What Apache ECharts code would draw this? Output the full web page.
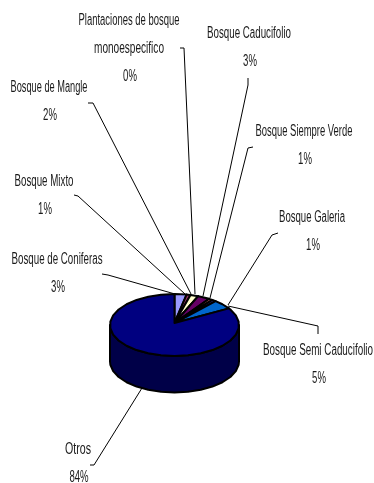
<!DOCTYPE html>
<html>
<head>
<meta charset="utf-8">
<style>html,body{margin:0;padding:0;background:#fff}#chart{width:374px;height:483px}</style>
<script src="https://cdn.jsdelivr.net/npm/echarts@6/dist/echarts.min.js"></script>
</head>
<body>
<div id="chart"></div>
<script>
// Forest cover by type, in percent, clockwise from twelve o'clock.
const categories = ['Bosque de Coniferas', 'Bosque Mixto', 'Bosque de Mangle',
  'Plantaciones de bosque monoespecifico', 'Bosque Caducifolio', 'Bosque Siempre Verde',
  'Bosque Galeria', 'Bosque Semi Caducifolio', 'Otros'];
const shares = [3, 1, 2, 0, 3, 1, 1, 5, 84];
const sliceColors = ['#9999ff', '#993366', '#ffffcc', '#ccffff', '#660066', '#ff8080', '#333399', '#0066cc', '#000080'];

// Label text lines with their squeezed widths, centres and leader paths, ordered like the categories.
const labelLines = [
  [['Bosque de Coniferas', 91]], [['Bosque Mixto', 59]], [['Bosque de Mangle', 77]],
  [['Plantaciones de bosque', 101], ['monoespecifico', 70]], [['Bosque Caducifolio', 84]], [['Bosque Siempre Verde', 97]],
  [['Bosque Galeria', 66]], [['Bosque Semi Caducifolio', 110]], [['Otros', 26]]
];
const labelBoxes = [
  { x: 57, y: 260 }, { x: 44, y: 182 }, { x: 49, y: 88 },
  { x: 129, y: 21 }, { x: 249, y: 34 }, { x: 304, y: 132 },
  { x: 312, y: 218 }, { x: 318, y: 351 }, { x: 78, y: 450 }
];
const leaderPaths = [
  [[102, 274], [108, 275], [175, 294]],
  [[74, 195], [78, 196], [185, 294]],
  [[88, 103], [93, 103], [191, 294]],
  [[180, 48], [184, 48], [195, 294]],
  [[248, 78], [248, 85], [203, 296]],
  [[253, 147], [248, 148], [210, 298]],
  [[278, 233], [272, 235], [228, 305]],
  [[318, 334], [318, 326], [228, 306]],
  [[90, 465], [94, 465], [142, 388]]
];

// Tilted disc geometry.
const disc = { cx: 174.5, cy: 325, rx: 64.5, ry: 31, depth: 36.5, tipY: 323 };
const sideColor = '#000048';
const labelFontSize = 16;
const labelFontFamily = '"Liberation Sans"';
const percentSqueeze = 0.6;
const total = shares.reduce((a, b) => a + b, 0);
const rimStep = 12 * Math.PI / 180;
const ruler = document.createElement('canvas').getContext('2d');
ruler.font = labelFontSize + 'px ' + labelFontFamily;

function startAngle(i) {
  let sum = 0;
  for (let k = 0; k < i; k++) sum += shares[k];
  return sum / total * 2 * Math.PI;
}
function rimPoint(a, drop) {
  return [disc.cx + disc.rx * Math.sin(a), disc.cy - disc.ry * Math.cos(a) + (drop || 0)];
}
function rimArc(a0, a1, drop) {
  const pts = [rimPoint(a0, drop)];
  for (let a = Math.ceil(a0 / rimStep) * rimStep; a < a1; a += rimStep) pts.push(rimPoint(a, drop));
  pts.push(rimPoint(a1, drop));
  return pts;
}

function renderSide() {
  const i = shares.length - 1;
  const a0 = Math.max(startAngle(i), Math.PI / 2);
  const a1 = 3 * Math.PI / 2;
  const pts = rimArc(a0, a1, 0).concat(rimArc(a0, a1, disc.depth).reverse());
  return { type: 'polygon', shape: { points: pts }, style: { fill: sideColor, stroke: '#000', lineWidth: 2, lineJoin: 'round' } };
}

function renderSlice(params) {
  const i = params.dataIndex;
  const a0 = startAngle(i);
  const a1 = a0 + shares[i] / total * 2 * Math.PI;
  const pts = [[disc.cx, disc.tipY]].concat(rimArc(a0, a1, 0));
  return { type: 'polygon', shape: { points: pts }, style: { fill: sliceColors[i], stroke: '#000', lineWidth: 2, lineJoin: 'round' } };
}

function textLine(str, x, y, squeeze) {
  return {
    type: 'text', x: x, y: y, scaleX: squeeze,
    style: { text: str, x: 0, y: 0, align: 'center', verticalAlign: 'middle', fill: '#1a1a1a',
      fontSize: labelFontSize, fontFamily: labelFontFamily }
  };
}

function renderLabel(params) {
  const i = params.dataIndex;
  const box = labelBoxes[i];
  const children = [{
    type: 'polyline', shape: { points: leaderPaths[i] }, style: { fill: 'none', stroke: '#000', lineWidth: 1 }
  }];
  labelLines[i].forEach((line, k) => {
    children.push(textLine(line[0], box.x, box.y + k * 27.8, line[1] / ruler.measureText(line[0]).width));
  });
  children.push(textLine(shares[i] + '%', box.x + 1, box.y + labelLines[i].length * 27.8, percentSqueeze));
  return { type: 'group', children: children };
}

const chart = echarts.init(document.getElementById('chart'), null, { renderer: 'canvas' });
const rows = categories.map((name, i) => ({ name: name, value: shares[i] }));
chart.setOption({
  backgroundColor: '#fff',
  animation: false,
  series: [
    { type: 'custom', coordinateSystem: 'none', z: 1, silent: true, data: [rows[rows.length - 1]], renderItem: renderSide },
    { type: 'custom', coordinateSystem: 'none', z: 2, silent: true, data: rows, renderItem: renderSlice },
    { type: 'custom', coordinateSystem: 'none', z: 3, silent: true, data: rows, renderItem: renderLabel }
  ]
});
</script>
</body>
</html>
